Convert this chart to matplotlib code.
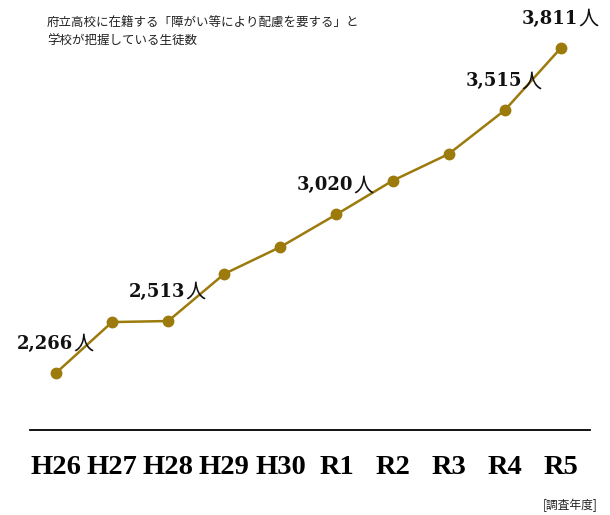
import matplotlib
matplotlib.use("Agg")
import matplotlib.pyplot as plt

years = ["H26", "H27", "H28", "H29", "H30", "R1", "R2", "R3", "R4", "R5"]
students = [2266, 2508, 2513, 2737, 2865, 3020, 3180, 3307, 3515, 3811]
labeled = ["H26", "H28", "R1", "R4", "R5"]

title = "府立高校に在籍する「障がい等により配慮を要する」と\n学校が把握している生徒数"
unit_note = "[調査年度]"

line_color = "#9C7A0C"
W, H = 610, 515
PT = 72 / 100  # pixels -> points

fig = plt.figure(figsize=(W / 100, H / 100), dpi=100)
ax = fig.add_axes([30 / W, (H - 430) / H, 560 / W, 430 / H])

x = list(range(len(years)))
ax.plot(x, students, color=line_color, lw=1.8, marker="o", ms=7.5,
        markerfacecolor=line_color, markeredgecolor=line_color, zorder=3)

for i, (yr, v) in enumerate(zip(years, students)):
    if yr in labeled:
        # number in bold serif, 人 in thin CJK, split just right of the point
        ax.annotate(f"{v:,}", (i, v), xytext=(17 * PT, 29 * PT), textcoords="offset points",
                    ha="right", va="center", fontsize=13, fontweight="bold",
                    family="DejaVu Serif", color="#111111")
        ax.annotate("人", (i, v), xytext=(17 * PT, 28.5 * PT), textcoords="offset points",
                    ha="left", va="center", fontsize=14.5,
                    family="Noto Sans CJK JP", color="#111111")

ax.set_xlim(-0.463, 9.519)
ax.set_ylim(1995, 4039)
ax.set_xticks(x)
ax.set_xticklabels(years, fontsize=20.5, fontweight="bold", family="Liberation Serif")
ax.tick_params(axis="x", length=0, pad=18)
ax.set_yticks([])
for s in ["top", "left", "right"]:
    ax.spines[s].set_visible(False)
ax.spines["bottom"].set_linewidth(1.3)
ax.spines["bottom"].set_color("black")

fig.text(47 / W, 1 - 17 / H, title, ha="left", va="top", fontsize=9,
         family=["Noto Sans CJK JP", "DejaVu Sans"], color="#222222", linespacing=1.45)
fig.text(598 / W, 1 - 505 / H, unit_note, ha="right", va="center", fontsize=8.5,
         family=["Noto Sans CJK JP", "DejaVu Sans"], color="#222222")

fig.savefig("out.png", dpi=100)
